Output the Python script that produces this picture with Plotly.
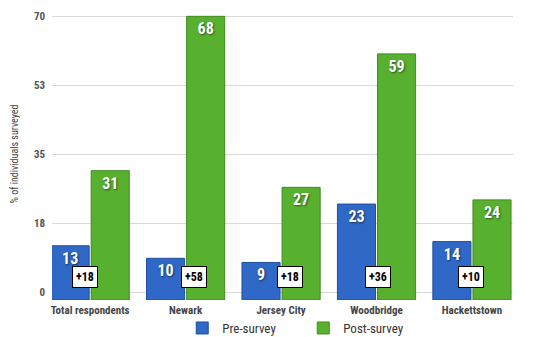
import plotly.graph_objects as go

categories = ["Total respondents", "Newark", "Jersey City", "Woodbridge", "Hackettstown"]
pre_survey = [13, 10, 9, 23, 14]
post_survey = [31, 68, 27, 59, 24]
tick_values = [0, 17.5, 35, 52.5, 70]
tick_labels = ["0", "18", "35", "53", "70"]

diffs = [p - q for p, q in zip(post_survey, pre_survey)]
diff_xshift = [-5, 8, 9, 1, -1]

FONT = "Liberation Sans Narrow, Arial Narrow, Roboto Condensed, Liberation Sans, sans-serif"
BLUE = "#2f68c6"
GREEN = "#58b02f"

fig = go.Figure()
# invisible helper trace so the grid axis (y) is drawn
fig.add_trace(go.Scatter(x=categories, y=pre_survey, yaxis="y", mode="markers",
                         marker=dict(opacity=0), hoverinfo="skip", showlegend=False))
fig.add_trace(go.Bar(
    name="Pre-survey", x=categories, y=pre_survey, yaxis="y2",
    marker=dict(color=BLUE, line=dict(color="#1e4f9e", width=1)),
    text=[str(v) for v in pre_survey], textposition="inside", insidetextanchor="end",
    textfont=dict(family=FONT, size=16, color="white", weight="bold", shadow="1px 1px 2px rgba(0,0,0,0.5)"),
    textangle=0,
))
fig.add_trace(go.Bar(
    name="Post-survey", x=categories, y=post_survey, yaxis="y2",
    marker=dict(color=GREEN, line=dict(color="#3f8a1f", width=1)),
    text=[str(v) for v in post_survey], textposition="inside", insidetextanchor="end",
    textfont=dict(family=FONT, size=16, color="white", weight="bold", shadow="1px 1px 2px rgba(0,0,0,0.5)"),
    textangle=0,
))

for cat, d, xs in zip(categories, diffs, diff_xshift):
    fig.add_annotation(
        x=cat, y=5.5, xref="x", yref="y2", text=f"+{d}", showarrow=False, xshift=xs,
        font=dict(family=FONT, size=12, color="black", weight="bold"),
        bgcolor="white", bordercolor="black", borderwidth=1, borderpad=3,
    )

fig.update_layout(
    width=537, height=337,
    margin=dict(l=52, r=24, t=8, b=37, autoexpand=False),
    paper_bgcolor="white", plot_bgcolor="white",
    barmode="group", bargap=0.16, bargroupgap=0.05,
    font=dict(family=FONT, color="#444"),
    xaxis=dict(range=[-0.4, 4.43], showgrid=False, showline=False, ticks="",
               ticklabelstandoff=2, automargin=False,
               tickfont=dict(family=FONT, size=11, color="#444", weight="bold")),
    yaxis=dict(range=[-2.03, 72.03], tickvals=tick_values, ticktext=tick_labels,
               showgrid=True, gridcolor="#d9d9d9", gridwidth=1, zeroline=False,
               showline=False, ticks="", ticklabelstandoff=6, automargin=False,
               tickfont=dict(family=FONT, size=11, color="#555", weight="bold"),
               title=dict(text="% of individuals surveyed", standoff=13,
                          font=dict(family=FONT, size=10, color="#444"))),
    yaxis2=dict(range=[0, 70], overlaying="y", visible=False, showgrid=False),
    legend=dict(orientation="h", x=0.545, xanchor="center", y=-0.096, yanchor="middle",
                bgcolor="rgba(0,0,0,0)",
                font=dict(family=FONT, size=13, color="#333"), entrywidth=76,
                itemwidth=30),
    showlegend=True,
)

fig.write_html("out.html")
